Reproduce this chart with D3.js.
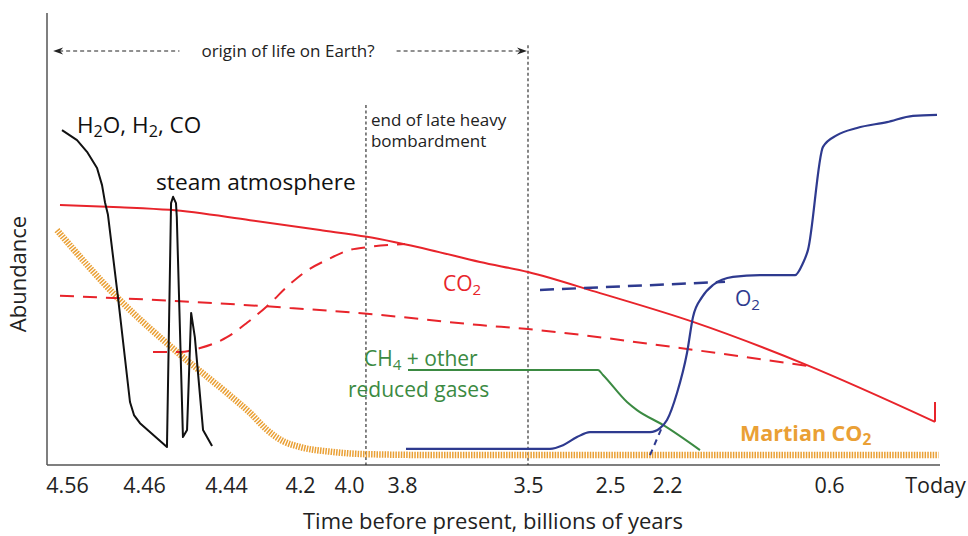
<!DOCTYPE html>
<html>
<head>
<meta charset="utf-8">
<script src="https://cdn.jsdelivr.net/npm/d3@7"></script>
<style>
  html, body { margin: 0; padding: 0; background: #fff; }
  svg { display: block; font-family: "Open Sans", "Noto Sans", sans-serif; }
</style>
</head>
<body>
<svg id="chart" width="968" height="536"></svg>
<script>
// ---------------- DATA ----------------
// Time before present (billions of years) -> tick labels (non-uniform axis)
const xTicks = [4.56, 4.46, 4.44, 4.2, 4.0, 3.8, 3.5, 2.5, 2.2, 0.6, 0];
const xTickLabels = ["4.56", "4.46", "4.44", "4.2", "4.0", "3.8", "3.5", "2.5", "2.2", "0.6", "Today"];

// Abundance (arbitrary units 0-100): [time, abundance]
const h2oSeries = [
  [4.5665, 74.4], [4.547, 72.2], [4.534, 69.6], [4.521, 66.0], [4.5145, 62.2],
  [4.5107, 58.4], [4.5068, 55.6], [4.4938, 37.3], [4.4782, 14.0], [4.473, 11.1],
  [4.4652, 9.3], [4.4544, 4.0], [4.4534, 58.2], [4.4529, 59.6], [4.4522, 58.2],
  [4.4520, 55.1], [4.4505, 6.2], [4.4495, 7.8], [4.4485, 33.8], [4.4476, 28.4],
  [4.4456, 7.8], [4.4434, 4.2]
];
const co2Series = [
  [4.5691, 57.8], [4.4912, 57.3], [4.4537, 56.7], [4.3622, 54.4], [4.1184, 52.2],
  [3.932, 50.7], [3.7333, 47.8], [3.6143, 45.1], [3.5, 42.9], [2.622, 38.2],
  [1.943, 31.8], [0.817, 22.2], [0, 9.6]
];
const co2EndTick = [[0, 9.6], [0, 14.0]];
const co2LowSeries = [
  [4.5691, 37.6], [4.4512, 36.4], [4.2324, 34.9], [3.932, 33.6], [3.6143, 31.1],
  [3.5, 30.2], [2.0716, 26.0], [0.8074, 22.0]
];
const co2BumpSeries = [
  [4.4578, 25.1], [4.4512, 25.1], [4.4463, 26.0], [4.4368, 28.4], [4.3719, 31.6],
  [4.307, 35.3], [4.2324, 40.2], [4.1796, 42.9], [4.0898, 45.6], [3.9962, 47.8],
  [3.932, 48.4], [3.7929, 49.1]
];
const marsCo2Series = [
  [4.573, 52.2], [4.4951, 37.3], [4.4505, 24.0], [4.4368, 16.0], [4.3622, 11.6],
  [4.307, 7.8], [4.2551, 5.3], [4.2, 4.0], [4.0653, 2.9], [3.932, 2.4],
  [3.6857, 2.2], [-0.02, 2.2]
];
const o2Series = [
  [3.7905, 3.6], [3.2317, 3.6], [3.0732, 4.4], [2.9024, 6.2], [2.7439, 7.3],
  [2.2895, 7.3], [2.2368, 8.2], [2.2, 10.0], [2.1012, 16.0], [2.0025, 24.9],
  [1.9432, 32.9], [1.8543, 37.3], [1.7457, 40.0], [1.5481, 41.8], [1.2815, 42.2],
  [0.9358, 42.2], [0.8568, 44.9], [0.8074, 47.8], [0.6593, 70.7], [0.5547, 73.3],
  [0.4415, 74.9], [0.2717, 76.2], [0.1245, 77.6], [-0.0113, 77.8]
];
const o2DashTop = [[3.3537, 38.9], [1.6271, 40.7]];
const o2DashLow = [[2.2895, 2.2], [2.2211, 8.9]];
const ch4Series = [
  [3.7857, 21.1], [2.6463, 21.1], [2.5854, 20.0], [2.4105, 14.0], [2.3579, 12.2],
  [2.2211, 8.9], [1.8741, 3.3]
];
// annotation times
const bombardmentEnd = 3.936;
const lifeWindow = [4.578, 3.5];

// ---------------- CHART ----------------
const svg = d3.select("#chart");
const plotLeft = 47, plotRight = 940, plotTop = 13, plotBottom = 465;

const x = d3.scaleLinear()
  .domain(xTicks)
  .range([67, 144, 226, 300, 349, 402, 528, 610, 667, 829, 935]);
const y = d3.scaleLinear().domain([0, 100]).range([plotBottom, 15]);

const lineLin = d3.line().x(d => x(d[0])).y(d => y(d[1])).curve(d3.curveLinear);
const lineSmooth = d3.line().x(d => x(d[0])).y(d => y(d[1])).curve(d3.curveMonotoneX);

const RED = "#e8242b", BLUE = "#2e3a8f", GREEN = "#3b8a42", ORANGE = "#eaa035", BLACK = "#111";

// axes lines
svg.append("line").attr("x1", plotLeft).attr("x2", plotLeft).attr("y1", plotTop).attr("y2", plotBottom)
  .attr("stroke", "#555").attr("stroke-width", 1.5);
svg.append("line").attr("x1", plotLeft).attr("x2", plotRight).attr("y1", plotBottom).attr("y2", plotBottom)
  .attr("stroke", "#555").attr("stroke-width", 1.5);

// x axis ticks labels
const xAxis = d3.axisBottom(x).tickValues(xTicks).tickFormat((d, i) => xTickLabels[i]).tickSize(0).tickPadding(0);
const gx = svg.append("g").attr("transform", `translate(0,${plotBottom})`).call(xAxis);
gx.select(".domain").remove();
gx.selectAll("text").attr("font-size", 21.5).attr("font-family", "Open Sans").attr("fill", "#222")
  .attr("y", 20).attr("dy", "0.35em");

// axis titles
svg.append("text").attr("x", 493).attr("y", 521).attr("dy", "0.35em").attr("text-anchor", "middle")
  .attr("font-size", 22).attr("fill", "#222").text("Time before present, billions of years");
svg.append("text").attr("transform", "translate(18,274) rotate(-90)").attr("dy", "0.35em")
  .attr("text-anchor", "middle").attr("font-size", 22).attr("fill", "#222").text("Abundance");

// vertical dotted lines
svg.append("line").attr("x1", x(bombardmentEnd)).attr("x2", x(bombardmentEnd))
  .attr("y1", y(80)).attr("y2", plotBottom)
  .attr("stroke", "#222").attr("stroke-width", 1.1).attr("stroke-dasharray", "3,2.5");
svg.append("line").attr("x1", x(lifeWindow[1])).attr("x2", x(lifeWindow[1]))
  .attr("y1", y(93.3)).attr("y2", plotBottom)
  .attr("stroke", "#222").attr("stroke-width", 1.1).attr("stroke-dasharray", "3,2.5");

// origin of life arrow
const arrowY = y(92);
const lifeText = svg.append("text").attr("x", 288).attr("y", arrowY).attr("dy", "0.35em")
  .attr("text-anchor", "middle").attr("font-size", 17).attr("fill", "#222").text("origin of life on Earth?");
const tb = lifeText.node().getBBox();
const ax0 = x(lifeWindow[0]), ax1 = x(lifeWindow[1]);
svg.append("line").attr("x1", ax0 + 6).attr("x2", tb.x - 22).attr("y1", arrowY).attr("y2", arrowY)
  .attr("stroke", "#222").attr("stroke-width", 1.1).attr("stroke-dasharray", "4,3");
svg.append("line").attr("x1", tb.x + tb.width + 22).attr("x2", ax1 - 6).attr("y1", arrowY).attr("y2", arrowY)
  .attr("stroke", "#222").attr("stroke-width", 1.1).attr("stroke-dasharray", "4,3");
svg.append("path").attr("d", `M${ax0},${arrowY} L${ax0 + 10},${arrowY - 3.5} L${ax0 + 7},${arrowY} L${ax0 + 10},${arrowY + 3.5} Z`).attr("fill", "#222");
svg.append("path").attr("d", `M${ax1 - 1},${arrowY} L${ax1 - 11},${arrowY - 3.5} L${ax1 - 8},${arrowY} L${ax1 - 11},${arrowY + 3.5} Z`).attr("fill", "#222");

// bombardment text
const bt = svg.append("text").attr("x", x(bombardmentEnd) + 5).attr("font-size", 17).attr("fill", "#222");
bt.append("tspan").attr("x", x(bombardmentEnd) + 5).attr("y", 120).attr("dy", "0.35em").text("end of late heavy");
bt.append("tspan").attr("x", x(bombardmentEnd) + 5).attr("y", 141).attr("dy", "0.35em").text("bombardment");

// Martian CO2 (hatched)
svg.append("path").datum(marsCo2Series).attr("d", lineSmooth).attr("fill", "none")
  .attr("stroke", ORANGE).attr("stroke-width", 6.5).attr("stroke-dasharray", "1.5,1.2");

// red CO2 lines
svg.append("path").datum(co2Series).attr("d", lineSmooth).attr("fill", "none").attr("stroke", RED).attr("stroke-width", 2);
svg.append("path").datum(co2EndTick).attr("d", lineLin).attr("fill", "none").attr("stroke", RED).attr("stroke-width", 2);
svg.append("path").datum(co2LowSeries).attr("d", lineSmooth).attr("fill", "none").attr("stroke", RED)
  .attr("stroke-width", 2).attr("stroke-dasharray", "14,9");
svg.append("path").datum(co2BumpSeries).attr("d", lineSmooth).attr("fill", "none").attr("stroke", RED)
  .attr("stroke-width", 2).attr("stroke-dasharray", "14,9");

// green CH4
svg.append("path").datum(ch4Series).attr("d", lineSmooth).attr("fill", "none").attr("stroke", GREEN).attr("stroke-width", 2);

// blue O2
svg.append("path").datum(o2Series).attr("d", lineSmooth).attr("fill", "none").attr("stroke", BLUE).attr("stroke-width", 2.2);
svg.append("path").datum(o2DashTop).attr("d", lineLin).attr("fill", "none").attr("stroke", BLUE)
  .attr("stroke-width", 2.5).attr("stroke-dasharray", "14,8");
svg.append("path").datum(o2DashLow).attr("d", lineLin).attr("fill", "none").attr("stroke", BLUE)
  .attr("stroke-width", 2).attr("stroke-dasharray", "6,5");

// black H2O etc
svg.append("path").datum(h2oSeries).attr("d", lineLin).attr("fill", "none").attr("stroke", BLACK)
  .attr("stroke-width", 2).attr("stroke-linejoin", "round");

// labels with subscripts
function subLabel(xp, yp, parts, color, size, weight) {
  const t = svg.append("text").attr("x", xp).attr("y", yp).attr("font-size", size)
    .attr("fill", color).attr("font-weight", weight || 400);
  parts.forEach(p => {
    if (p.sub) {
      t.append("tspan").attr("font-size", size * 0.72).attr("dy", size * 0.18).text(p.t);
    } else {
      const s = t.append("tspan").text(p.t);
      if (p.after) s.attr("dy", -size * 0.18);
    }
  });
  return t;
}
subLabel(77, 133, [{t: "H"}, {t: "2", sub: true}, {t: "O, H", after: true}, {t: "2", sub: true}, {t: ", CO", after: true}], BLACK, 22.5);
svg.append("text").attr("x", 156).attr("y", 190).attr("font-size", 22.7).attr("fill", BLACK).text("steam atmosphere");
subLabel(443, 291, [{t: "CO"}, {t: "2", sub: true}], RED, 21);
subLabel(735, 306, [{t: "O"}, {t: "2", sub: true}], BLUE, 21);
subLabel(364, 366, [{t: "CH"}, {t: "4", sub: true}, {t: " + other", after: true}], GREEN, 21);
svg.append("text").attr("x", 348).attr("y", 397).attr("font-size", 21).attr("fill", GREEN).text("reduced gases");
subLabel(740, 441, [{t: "Martian CO"}, {t: "2", sub: true}], ORANGE, 21.5, 700);
</script>
</body>
</html>
